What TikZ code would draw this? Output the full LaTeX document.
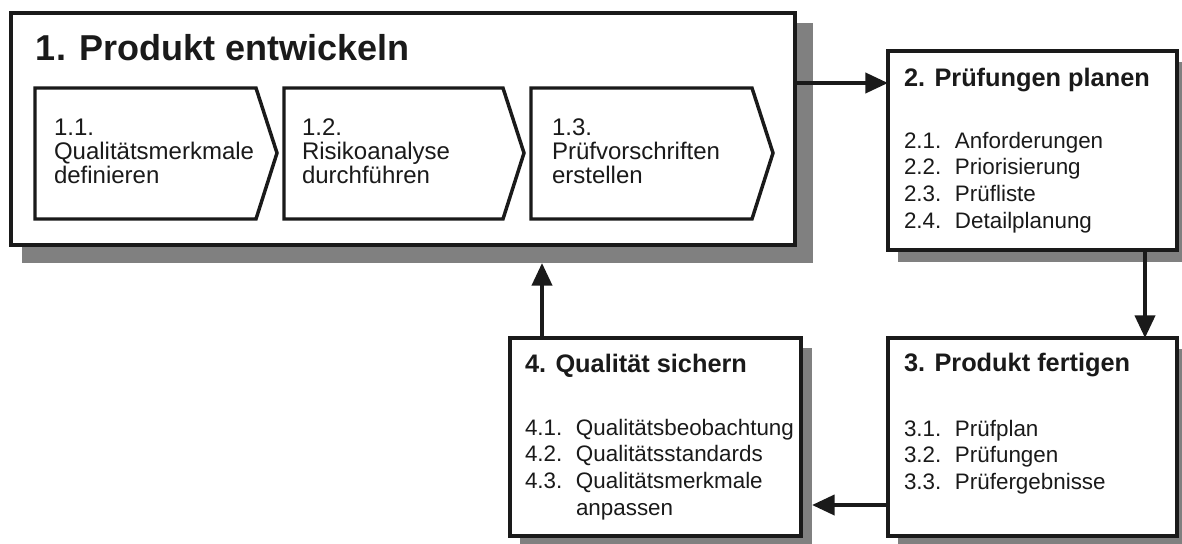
\documentclass[tikz,border=0pt]{standalone}
\usepackage{fontspec}
\setmainfont{Liberation Sans}
\usetikzlibrary{arrows.meta}
\definecolor{shd}{RGB}{128,128,128}
\definecolor{ink}{RGB}{26,26,26}
\begin{document}
\begin{tikzpicture}[x=0.75pt,y=-0.75pt,
  shadowbox/.style={fill=shd, draw=none, anchor=north west, inner sep=0pt, outer sep=0pt},
  frame/.style={draw=ink, fill=white, line width=2.3pt, anchor=north west, inner sep=0pt, outer sep=0pt},
  chev/.style={draw=ink, fill=white, line width=2.6pt, line join=miter},
  txt/.style={anchor=base west, inner sep=0pt, outer sep=0pt, text=ink},
  ttl/.style={txt, font=\fontsize{19}{23}\selectfont\bfseries},
  ctxt/.style={txt, font=\fontsize{18}{18}\selectfont},
  ltxt/.style={txt, font=\fontsize{16.8}{20}\selectfont},
  arr/.style={draw=ink, line width=3pt, -{Triangle[length=17pt,width=15pt]}}
]
\useasboundingbox (0,0) rectangle (1182,543);
\clip (0,0) rectangle (1182,543);
% shadows
\node[shadowbox, minimum width=593.25pt, minimum height=180pt] (s1) at (22,23) {};
\node[shadowbox, minimum width=218.25pt, minimum height=150pt] (s2) at (898,62) {};
\node[shadowbox, minimum width=218.25pt, minimum height=150pt] (s3) at (898,349) {};
\node[shadowbox, minimum width=219pt, minimum height=149.25pt] (s4) at (520,348) {};
% boxes
\node[frame, line width=3pt, minimum width=588pt, minimum height=174pt] (b1) at (11,13) {};
\node[frame, minimum width=216.75pt, minimum height=149.25pt] (b2) at (888,51) {};
\node[frame, minimum width=216.75pt, minimum height=148.5pt] (b3) at (888,338) {};
\node[frame, minimum width=218.25pt, minimum height=148.5pt] (b4) at (510,338) {};
% chevrons
\draw[chev] (35,88) -- (256,88) -- (277,153) -- (256,219) -- (35,219) -- cycle;
\draw[chev] (284,88) -- (503,88) -- (524,153) -- (503,219) -- (284,219) -- cycle;
\draw[chev] (531,88) -- (752,88) -- (773,153) -- (752,219) -- (531,219) -- cycle;
% title
\node[txt, font=\fontsize{27}{32}\selectfont\bfseries] (t1) at (36,60) {1. Produkt entwickeln};
% chevron texts
\node[ctxt] (c1a) at (54,135) {1.1.};
\node[ctxt] (c1b) at (54,159) {Qualitätsmerkmale};
\node[ctxt] (c1c) at (54,183) {definieren};
\node[ctxt] (c2a) at (302,135) {1.2.};
\node[ctxt] (c2b) at (302,159) {Risikoanalyse};
\node[ctxt] (c2c) at (302,183) {durchführen};
\node[ctxt] (c3a) at (552,135) {1.3.};
\node[ctxt] (c3b) at (552,159) {Prüfvorschriften};
\node[ctxt] (c3c) at (552,183) {erstellen};
% box titles
\node[ttl] (t2) at (904,86) {2. Prüfungen planen};
\node[ttl] (t3) at (904,371) {3. Produkt fertigen};
\node[ttl] (t4) at (525,372) {4. Qualität sichern};
% lists
\node[ltxt] (l2) at (904,148) {\begin{tabular}[t]{@{}l@{}l@{}}
\makebox[38.25pt][l]{2.1.} & Anforderungen\\
\makebox[38.25pt][l]{2.2.} & Priorisierung\\
\makebox[38.25pt][l]{2.3.} & Prüfliste\\
\makebox[38.25pt][l]{2.4.} & Detailplanung
\end{tabular}};
\node[ltxt] (l3) at (904,436) {\begin{tabular}[t]{@{}l@{}l@{}}
\makebox[38.25pt][l]{3.1.} & Prüfplan\\
\makebox[38.25pt][l]{3.2.} & Prüfungen\\
\makebox[38.25pt][l]{3.3.} & Prüfergebnisse
\end{tabular}};
\node[ltxt] (l4) at (525,435) {\begin{tabular}[t]{@{}l@{}l@{}}
\makebox[38.25pt][l]{4.1.} & Qualitätsbeobachtung\\
\makebox[38.25pt][l]{4.2.} & Qualitätsstandards\\
\makebox[38.25pt][l]{4.3.} & Qualitätsmerkmale\\
 & anpassen
\end{tabular}};
% connectors
\coordinate (y12) at (0,83);
\coordinate (x23) at (1145,0);
\coordinate (y34) at (0,505);
\coordinate (x41) at (542,0);
\draw[arr] (b1.east |- y12) -- (b2.west |- y12);
\draw[arr] (b2.south -| x23) -- (b3.north -| x23);
\draw[arr] (b3.west |- y34) -- (s4.east |- y34);
\draw[arr] (b4.north -| x41) -- (s1.south -| x41);
\end{tikzpicture}
\end{document}
